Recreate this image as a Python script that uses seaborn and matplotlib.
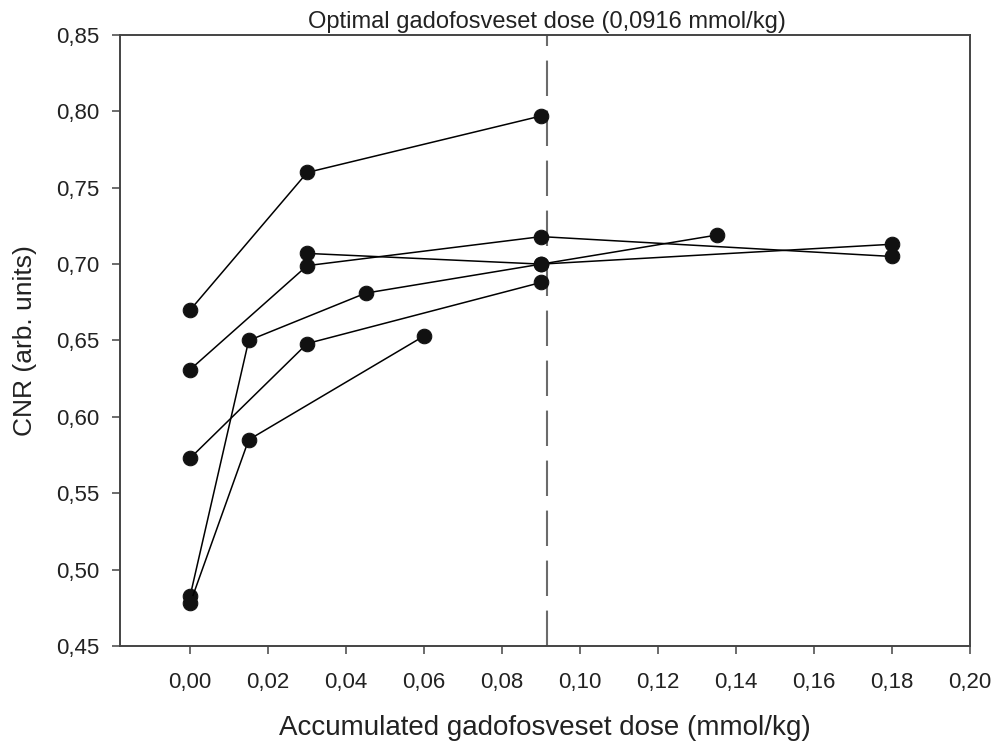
import pandas as pd
import matplotlib
matplotlib.use("Agg")
import matplotlib.pyplot as plt
from matplotlib.ticker import FuncFormatter
import seaborn as sns

# one list pair per subject (accumulated dose, CNR)
dose_1 = [0.0, 0.03, 0.09]
cnr_1 = [0.670, 0.760, 0.797]

dose_2 = [0.0, 0.03, 0.09, 0.18]
cnr_2 = [0.631, 0.699, 0.718, 0.705]

dose_3 = [0.0, 0.03, 0.09]
cnr_3 = [0.573, 0.648, 0.688]

dose_4 = [0.0, 0.015, 0.045, 0.09, 0.135]
cnr_4 = [0.483, 0.650, 0.681, 0.700, 0.719]

dose_5 = [0.0, 0.015, 0.06]
cnr_5 = [0.478, 0.585, 0.653]

dose_6 = [0.03, 0.09, 0.18]
cnr_6 = [0.707, 0.700, 0.713]

optimal_dose = 0.0916
x_ticks = [0.0, 0.02, 0.04, 0.06, 0.08, 0.10, 0.12, 0.14, 0.16, 0.18, 0.20]
y_ticks = [0.45, 0.50, 0.55, 0.60, 0.65, 0.70, 0.75, 0.80, 0.85]

doses = [dose_1, dose_2, dose_3, dose_4, dose_5, dose_6]
cnrs = [cnr_1, cnr_2, cnr_3, cnr_4, cnr_5, cnr_6]
frames = []
for i, (d, c) in enumerate(zip(doses, cnrs)):
    frames.append(pd.DataFrame({"dose": d, "cnr": c, "subject": i + 1}))
df = pd.concat(frames, ignore_index=True)

sns.set_style("ticks")
plt.rcParams['font.family'] = ['Liberation Sans', 'DejaVu Sans']

fig = plt.figure(figsize=(10.02, 7.43), dpi=100)
ax = fig.add_axes([0.1198, 0.1306, 0.8483, 0.8223])

# dashed line for the optimal dose, under the markers
ax.axvline(optimal_dose, color="#6b6b6b", lw=1.5, dashes=(17, 7), zorder=1)

sns.lineplot(data=df, x="dose", y="cnr", units="subject", estimator=None,
             color="black", lw=1.1, marker="o", markersize=10.5,
             markeredgecolor="#111111", markerfacecolor="#111111",
             ax=ax, zorder=3)

ax.set_xlim(-0.018, 0.20)
ax.set_ylim(0.45, 0.85)
ax.set_xticks(x_ticks)
ax.set_yticks(y_ticks)
comma = FuncFormatter(lambda v, p: f"{v:.2f}".replace(".", ","))
ax.xaxis.set_major_formatter(comma)
ax.yaxis.set_major_formatter(comma)

for s in ax.spines.values():
    s.set_color("#444444")
    s.set_linewidth(1.4)
ax.tick_params(axis="both", direction="out", length=6, width=1.1,
               color="#444444", labelsize=16, labelcolor="#222222")
ax.tick_params(axis="x", pad=12.5)
ax.tick_params(axis="y", pad=9)

ax.set_xlabel("Accumulated gadofosveset dose (mmol/kg)", fontsize=20,
              color="#222222", labelpad=16)
ax.set_ylabel("CNR (arb. units)", fontsize=19, color="#222222", labelpad=14)

ax.annotate("Optimal gadofosveset dose (0,0916 mmol/kg)",
            xy=(optimal_dose, 1), xycoords=("data", "axes fraction"),
            xytext=(0, 5), textcoords="offset points",
            ha="center", va="baseline", fontsize=17, color="#222222")

plt.savefig("out.png", dpi=100)
